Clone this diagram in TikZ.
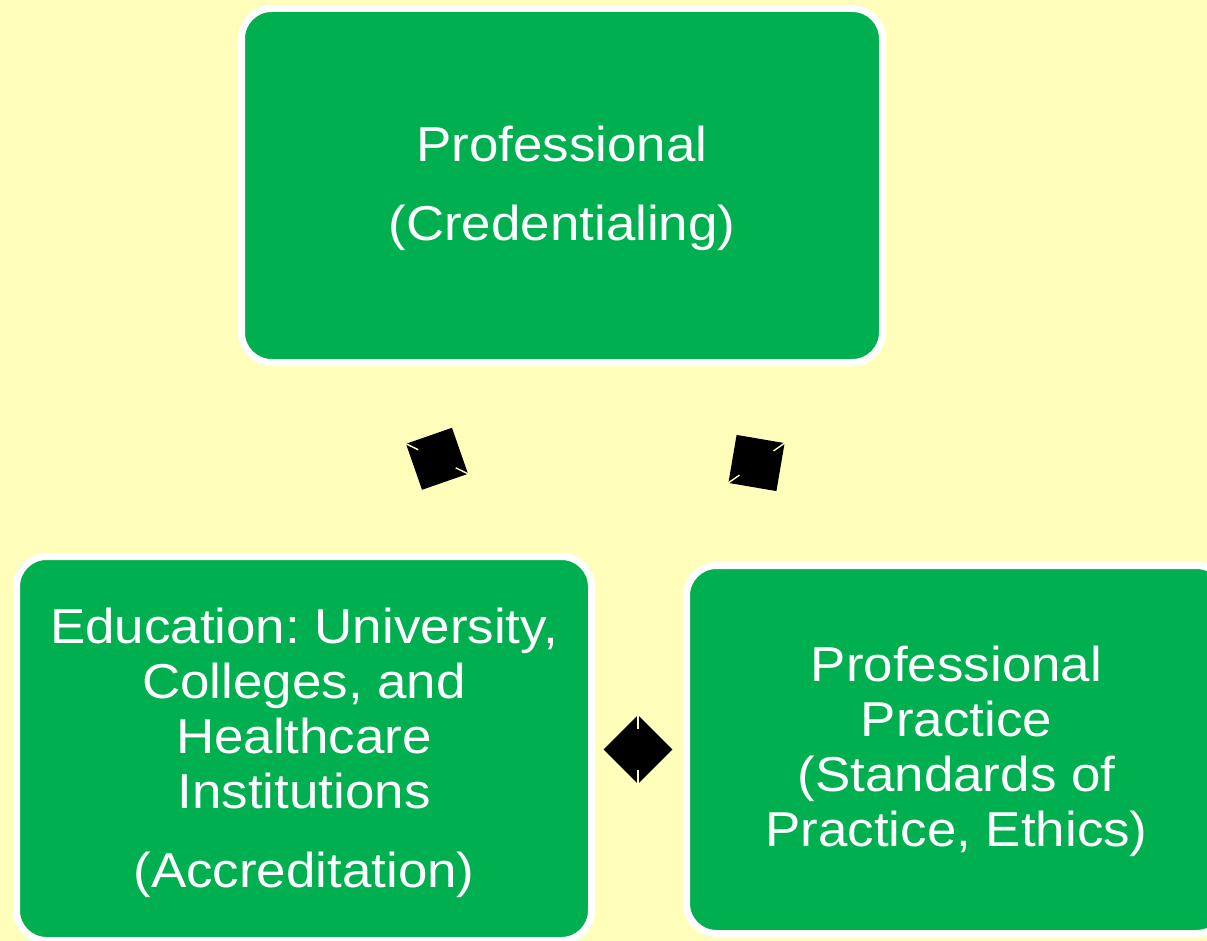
\documentclass[tikz,border=0pt]{standalone}
\usepackage{fontspec}
\newfontfamily\boxfont[FakeStretch=1.08]{Liberation Sans}
\usetikzlibrary{calc}
\definecolor{bg}{HTML}{FFFFBB}
\definecolor{boxgreen}{HTML}{00B050}
\begin{document}
\frenchspacing
\begin{tikzpicture}[x=1pt,y=-1pt,
  box/.style={draw=white, line width=7pt, fill=boxgreen, rounded corners=30pt, inner sep=0pt},
  boxtext/.style={text=white, align=center, inner sep=0pt,
    font={\boxfont\frenchspacing\fontsize{49pt}{55pt}\selectfont}},
  conn/.style={fill=black, draw=none, inner sep=0pt, minimum size=48.7pt, shape=rectangle},
  tick/.style={draw=bg, line width=1.4pt}]
\fill[bg] (0,0) rectangle (1207,941);
\useasboundingbox (0,0) rectangle (1207,941);
\clip (0,0) rectangle (1207,941);

\node[box, minimum width=641pt, minimum height=354pt] (prof) at (562,185.5) {};
\node[box, minimum width=575pt, minimum height=384pt] (edu) at (304,748.5) {};
\node[box, minimum width=540pt, minimum height=368pt] (prac) at (956.5,749.5) {};

\node[boxtext] (proft) at ($(prof.center)+(0,3)$)
  {Professional\\[24pt](Credentialing)};
\node[boxtext] (edut) at ($(edu.center)+(0,4)$)
  {Education: University,\\Colleges, and\\Healthcare\\Institutions\\[24pt](Accreditation)};
\node[boxtext] (pract) at ($(prac.center)+(0,2)$)
  {Professional\\Practice\\(Standards of\\Practice, Ethics)};

\node[conn, rotate=19.2] (d1) at (437,458.8) {};
\node[conn, rotate=-9.7] (d2) at (756.5,463) {};
\node[conn, rotate=45] (d3) at (638,749.5) {};

\draw[tick] (d1.north west) -- ($(d1.north west)!0.4!(d1.center)$);
\draw[tick] (d1.south east) -- ($(d1.south east)!0.4!(d1.center)$);
\draw[tick] (d2.north east) -- ($(d2.north east)!0.4!(d2.center)$);
\draw[tick] (d2.south west) -- ($(d2.south west)!0.4!(d2.center)$);
\draw[tick] (d3.north east) -- ($(d3.north east)!0.42!(d3.center)$);
\draw[tick] (d3.south west) -- ($(d3.south west)!0.42!(d3.center)$);
\end{tikzpicture}
\end{document}
